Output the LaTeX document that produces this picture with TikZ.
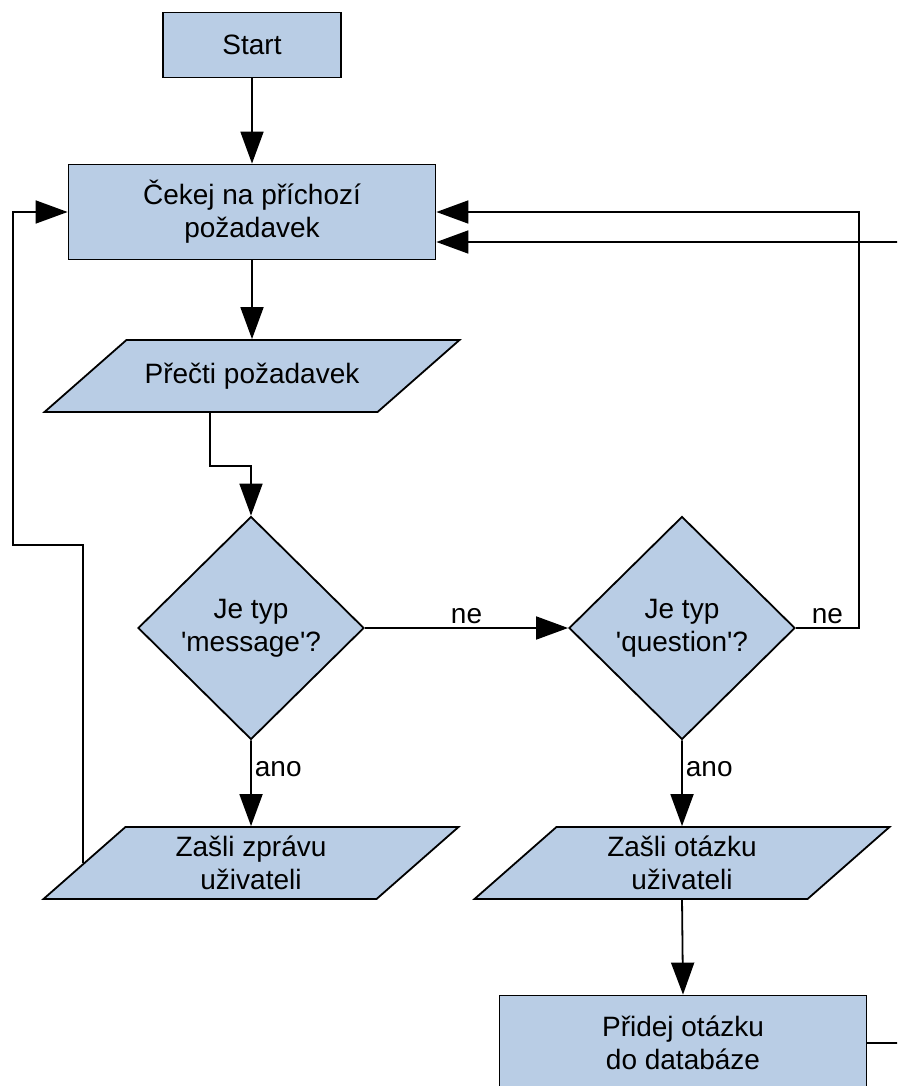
\documentclass[tikz,border=0pt]{standalone}
\usepackage{fontspec}
\setmainfont{Liberation Sans}
\usetikzlibrary{shapes.geometric,arrows.meta,calc}
\definecolor{boxblue}{RGB}{185,205,229}
\begin{document}
\begin{tikzpicture}[
        x=1pt, y=-1pt,
        font=\fontsize{28}{33}\selectfont,
        box/.style={rectangle, draw, fill=boxblue, line width=1.8pt, align=center, minimum width=367pt, minimum height=95pt},
        io/.style={trapezium, trapezium left angle=41.3, trapezium right angle=138.7, trapezium stretches body=true, draw, fill=boxblue, line width=1.8pt, minimum width=415pt, inner sep=0pt,
          execute at begin node={\begin{minipage}[c][72pt][c]{240pt}\centering},
          execute at end node={\end{minipage}}},
        decision/.style={diamond, draw, fill=boxblue, line width=1.8pt, align=center, minimum width=226pt, minimum height=223pt, inner sep=0pt},
        arrow/.style={-{Triangle[length=32pt,width=23pt]}, line width=1.8pt},
        label/.style={inner sep=3pt}
      ]
      \useasboundingbox (0,0) rectangle (897,1086);
      \clip (0,0) rectangle (897,1086);

      % Start and waiting
      \node[box, minimum width=178pt, minimum height=65pt] (start) at (252,45) {Start};
      \node[box] (wait) at (252,212) {Čekej na příchozí\\požadavek};

      % Reading the request
      \node[io] (read) at (252,376) {Přečti požadavek};

      % Decisions
      \node[decision] (message) at (251,628) {Je typ\\\textquotesingle message\textquotesingle?};
      \node[decision] (question) at (682,628) {Je typ\\\textquotesingle question\textquotesingle?};

      % Actions
      \node[io] (sendmsg) at (251,863) {Zašli zprávu\\uživateli};
      \node[io] (sendq) at (682,863) {Zašli otázku\\uživateli};
      \node[box] (addq) at (683,1043) {Přidej otázku\\do databáze};

      % Main flow
      \draw[arrow] (start) -- (wait);
      \draw[arrow] (wait) -- (read);
      \draw[arrow] (read.bottom side) -- ++(0,53) -| (message.north);
      \draw[arrow] (message.east) -- node[label, above] {ne} (question.west);
      \draw[arrow] (message.south) -- node[label, right, pos=0.33] {ano} (sendmsg.north);
      \draw[arrow] (question.south) -- node[label, right, pos=0.33] {ano} (sendq.north);
      \draw[arrow] (sendq.south) -- (addq.north);

      % Back to waiting
      \draw[arrow] (sendmsg.left side) |- (13,545) |- (wait.west);
      \draw[arrow] (question.east) -- node[label, above] {ne} ++(63,0) |- (wait.east);
      \draw[arrow] (addq.east) -- ++(80,0) |- ($(wait.east)+(0,30)$);
    \end{tikzpicture}
\end{document}
